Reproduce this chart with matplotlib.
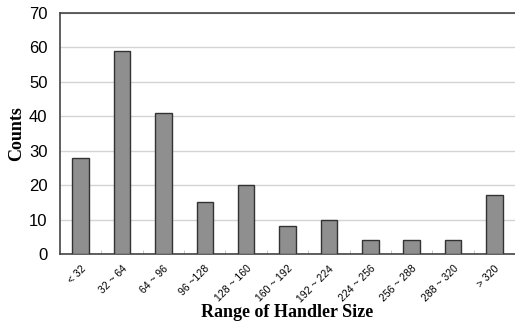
import numpy as np
import matplotlib.pyplot as plt

categories = ['< 32', '32 ~ 64', '64 ~ 96', '96 ~128', '128 ~ 160', '160 ~ 192',
              '192 ~ 224', '224 ~ 256', '256 ~ 288', '288 ~ 320', '> 320']
counts = [28, 59, 41, 15, 20, 8, 10, 4, 4, 4, 17]

x = np.arange(len(categories))

fig = plt.figure(figsize=(5.15, 3.26), dpi=100)
ax = fig.add_axes([60 / 515, 1 - 254 / 326, 455 / 515, 241 / 326])

ax.bar(x, counts, width=0.4, color='#8f8f8f', edgecolor='#333333', linewidth=1.0, zorder=3)

ax.set_xlim(-0.5, len(categories) - 0.5)
ax.set_ylim(0, 70)
ax.set_yticks(range(0, 71, 10))
ax.yaxis.grid(True, color='#d4d4d4', linewidth=1.0, zorder=0)

ax.set_xticks(x)
ax.set_xticklabels(categories, rotation=45, ha='right', rotation_mode='anchor',
                   fontsize=7.5, family='Liberation Sans')
ax.tick_params(axis='x', length=0, pad=7)
ax.set_xticks(np.arange(len(categories) + 1) - 0.5, minor=True)
ax.tick_params(axis='x', which='minor', direction='in', length=3, color='#bbbbbb')
ax.tick_params(axis='y', length=0, labelsize=12, pad=9)
for lab in ax.get_yticklabels():
    lab.set_family('Liberation Sans')

for s in ['top', 'left', 'bottom']:
    ax.spines[s].set_color('#444444')
    ax.spines[s].set_linewidth(1.2)
ax.spines['right'].set_visible(False)

ax.set_ylabel('Counts', family='Liberation Serif', fontweight='bold', fontsize=13, labelpad=3)
ax.set_xlabel('Range of Handler Size', family='Liberation Serif', fontweight='bold',
              fontsize=13, labelpad=0)

fig.savefig('out.png', dpi=100)
